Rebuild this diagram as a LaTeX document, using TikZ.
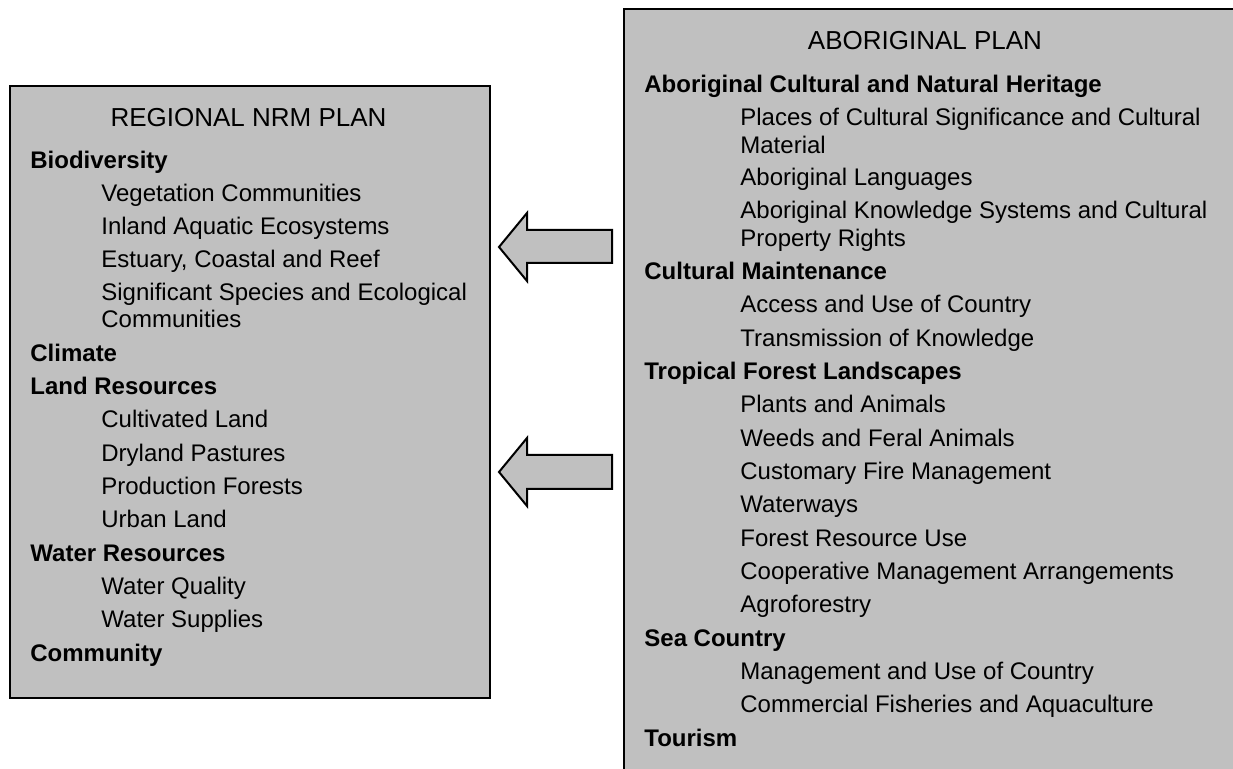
\documentclass[tikz,border=0pt]{standalone}
\usepackage{fontspec}
\setmainfont{Liberation Sans}
\definecolor{boxgray}{HTML}{C0C0C0}
\begin{document}
\begin{tikzpicture}[x=0.5pt,y=-0.5pt,
  panel/.style={draw=black,line width=1pt,fill=boxgray,inner sep=0pt,anchor=north west},
  blockarrow/.style={draw=black,line width=1pt,fill=boxgray,line join=miter},
  ttl/.style={font=\fontsize{13}{15}\selectfont,inner sep=0pt,anchor=base},
  hd/.style={font=\fontsize{12}{14}\selectfont\bfseries,inner sep=0pt,anchor=base west},
  it/.style={font=\fontsize{12}{14}\selectfont,inner sep=0pt,anchor=base west}]
\useasboundingbox (0,0) rectangle (1233,769);
\clip (0,0) rectangle (1233,769);
% boxes
\node[panel,minimum width=240pt,minimum height=306pt] (nrm) at (9,85) {};
\node[panel,minimum width=400pt,minimum height=420pt] (abo) at (623,8) {};
% block arrows
\draw[blockarrow] (612,230) -- (527,230) -- (527,213) -- (499,247) -- (527,281) -- (527,263) -- (612,263) -- cycle;
\draw[blockarrow] (612,455) -- (527,455) -- (527,438) -- (499,472) -- (527,506) -- (527,489) -- (612,489) -- cycle;
% left texts
\node[ttl] (t1) at (248.5,127) {REGIONAL NRM PLAN};
\node[hd] (l1) at (30,169) {Biodiversity};
\node[it] (l2) at (101,202) {Vegetation Communities};
\node[it] (l3) at (101,235) {Inland Aquatic Ecosystems};
\node[it] (l4) at (101,268) {Estuary, Coastal and Reef};
\node[it] (l5) at (101,301) {Significant Species and Ecological};
\node[it] (l5b) at (101,328) {Communities};
\node[hd] (l6) at (30,362) {Climate};
\node[hd] (l7) at (30,395) {Land Resources};
\node[it] (l8) at (101,428) {Cultivated Land};
\node[it] (l9) at (101,462) {Dryland Pastures};
\node[it] (l10) at (101,495) {Production Forests};
\node[it] (l11) at (101,528) {Urban Land};
\node[hd] (l12) at (30,562) {Water Resources};
\node[it] (l13) at (101,595) {Water Quality};
\node[it] (l14) at (101,628) {Water Supplies};
\node[hd] (l15) at (30,662) {Community};
% right texts
\node[ttl] (t2) at (925,50) {ABORIGINAL PLAN};
\node[hd] (r1) at (644,93) {Aboriginal Cultural and Natural Heritage};
\node[it] (r2) at (740,126) {Places of Cultural Significance and Cultural};
\node[it] (r2b) at (740,154) {Material};
\node[it] (r3) at (740,186) {Aboriginal Languages};
\node[it] (r4) at (740,219) {Aboriginal Knowledge Systems and Cultural};
\node[it] (r4b) at (740,247) {Property Rights};
\node[hd] (r5) at (644,280) {Cultural Maintenance};
\node[it] (r6) at (740,313) {Access and Use of Country};
\node[it] (r7) at (740,347) {Transmission of Knowledge};
\node[hd] (r8) at (644,380) {Tropical Forest Landscapes};
\node[it] (r9) at (740,413) {Plants and Animals};
\node[it] (r10) at (740,447) {Weeds and Feral Animals};
\node[it] (r11) at (740,480) {Customary Fire Management};
\node[it] (r12) at (740,513) {Waterways};
\node[it] (r13) at (740,547) {Forest Resource Use};
\node[it] (r14) at (740,580) {Cooperative Management Arrangements};
\node[it] (r15) at (740,613) {Agroforestry};
\node[hd] (r16) at (644,647) {Sea Country};
\node[it] (r17) at (740,680) {Management and Use of Country};
\node[it] (r18) at (740,713) {Commercial Fisheries and Aquaculture};
\node[hd] (r19) at (644,747) {Tourism};
\end{tikzpicture}
\end{document}
